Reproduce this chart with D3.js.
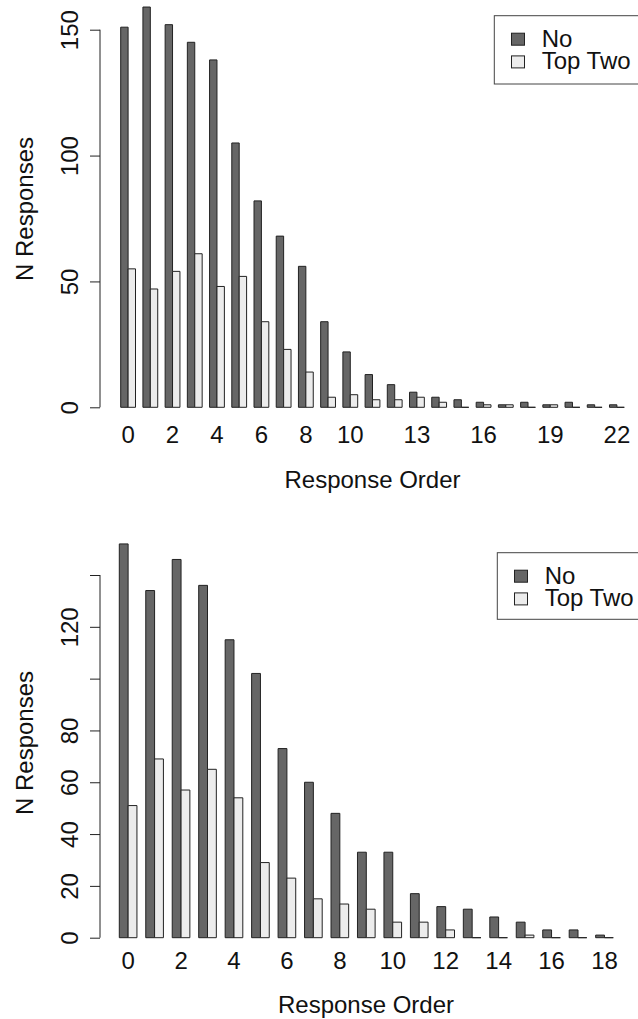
<!DOCTYPE html>
<html>
<head>
<meta charset="utf-8">
<script src="https://cdn.jsdelivr.net/npm/d3@7"></script>
<style>
  html, body { margin: 0; padding: 0; background: #fff; }
  svg { display: block; font-family: "Liberation Sans", Arial, Helvetica, sans-serif; }
</style>
</head>
<body>
<svg id="chart" width="638" height="1019"></svg>
<script>
// ---- data ----
const seriesNames = ['No', 'Top Two'];
const seriesColors = ['#666666', '#ececec'];

// top panel
const topOrder = [0,1,2,3,4,5,6,7,8,9,10,11,12,13,14,15,16,17,18,19,20,21,22];
const topNo     = [151,159,152,145,138,105,82,68,56,34,22,13,9,6,4,3,2,1,2,1,2,1,1];
const topTopTwo = [55,47,54,61,48,52,34,23,14,4,5,3,3,4,2,0,1,1,0,1,0,0,0];
const topXLabels = [0,2,4,6,8,10,13,16,19,22];
const topYTicks = [0,50,100,150];
const topYLabels = [0,50,100,150];

// bottom panel
const botOrder = [0,1,2,3,4,5,6,7,8,9,10,11,12,13,14,15,16,17,18];
const botNo     = [152,134,146,136,115,102,73,60,48,33,33,17,12,11,8,6,3,3,1];
const botTopTwo = [51,69,57,65,54,29,23,15,13,11,6,6,3,0,0,1,0,0,0];
const botXLabels = [0,2,4,6,8,10,12,14,16,18];
const botYTicks = [0,20,40,60,80,100,120,140];
const botYLabels = [0,20,40,60,80,120];

const svg = d3.select('#chart');
const FS = 24;

function drawPanel(p) {
  const g = svg.append('g');

  // group scale (R barplot beside=TRUE: gap of one bar between groups)
  const x = d3.scaleBand()
    .domain(p.order)
    .range(p.xRange)
    .paddingInner(1/3)
    .paddingOuter(0);
  const xSub = d3.scaleBand().domain([0, 1]).range([0, x.bandwidth()]);
  const y = d3.scaleLinear().domain(p.yDomain).range(p.yRange);

  const rows = p.order.map((o, i) => ({o, vals: [p.no[i], p.top[i]]}));

  // bars as paths so zero-height bars still show as a line
  g.selectAll('g.grp')
    .data(rows)
    .enter()
    .append('g')
    .attr('transform', d => `translate(${x(d.o)},0)`)
    .selectAll('path')
    .data(d => d.vals.map((v, k) => ({v, k})))
    .enter()
    .append('path')
    .attr('d', d => {
      const x0 = xSub(d.k), w = xSub.bandwidth();
      const y0 = y(0), y1 = y(d.v);
      return `M${x0},${y1}h${w}V${y0}H${x0}Z`;
    })
    .attr('fill', d => seriesColors[d.k])
    .attr('stroke', '#222')
    .attr('stroke-width', 1);

  // y axis
  const yAxis = g.append('g')
    .attr('transform', `translate(${p.axisX},0)`)
    .call(d3.axisLeft(y)
      .tickValues(p.yTicks)
      .tickSize(10)
      .tickFormat(v => p.yLabels.includes(v) ? v : ''));
  yAxis.select('.domain').attr('stroke', '#222')
    .attr('d', `M0,${y(p.yTicks[0])}V${y(p.yTicks[p.yTicks.length - 1])}`);
  yAxis.selectAll('line').attr('stroke', '#222');
  yAxis.selectAll('text')
    .attr('transform', 'rotate(-90)')
    .attr('x', 0).attr('y', -22).attr('dy', 0)
    .attr('text-anchor', 'middle')
    .attr('font-size', FS).attr('font-family', null).attr('fill', '#111');

  // x labels (no ticks, no line)
  const xAxis = g.append('g')
    .attr('transform', `translate(0,${p.xLabelY})`)
    .call(d3.axisBottom(x).tickValues(p.xLabels).tickSize(0).tickPadding(0));
  xAxis.select('.domain').remove();
  xAxis.selectAll('text')
    .attr('y', 0).attr('dy', 0)
    .attr('font-size', FS).attr('font-family', null).attr('fill', '#111');

  // axis titles
  g.append('text')
    .text('Response Order')
    .attr('x', p.titleX).attr('y', p.titleY)
    .attr('text-anchor', 'middle')
    .attr('font-size', FS).attr('fill', '#111');
  g.append('text')
    .text('N Responses')
    .attr('transform', `translate(33,${p.ylabY}) rotate(-90)`)
    .attr('text-anchor', 'middle')
    .attr('font-size', FS).attr('fill', '#111');

  // legend
  const lg = g.append('g').attr('transform', `translate(${p.legX},${p.legY})`);
  lg.append('rect')
    .attr('width', 170).attr('height', p.legH)
    .attr('fill', '#fff').attr('stroke', '#444').attr('stroke-width', 1);
  seriesNames.forEach((name, k) => {
    lg.append('rect')
      .attr('x', 17.2).attr('y', 17.5 + k * 22.7)
      .attr('width', 13).attr('height', 12)
      .attr('fill', seriesColors[k]).attr('stroke', '#222');
    lg.append('text')
      .text(name)
      .attr('x', 47.4).attr('y', 31 + k * 22.7)
      .attr('font-size', FS).attr('fill', '#111');
  });
}

drawPanel({
  order: topOrder, no: topNo, top: topTopTwo,
  xRange: [120.7, 624.3], yDomain: [0, 150], yRange: [407.3, 29.7],
  yTicks: topYTicks, yLabels: topYLabels, xLabels: topXLabels,
  axisX: 100, xLabelY: 443, titleX: 372.5, titleY: 487.5, ylabY: 209,
  legX: 494.3, legY: 15.7, legH: 68.3
});

drawPanel({
  order: botOrder, no: botNo, top: botTopTwo,
  xRange: [119.3, 613.3], yDomain: [0, 140], yRange: [937.7, 575],
  yTicks: botYTicks, yLabels: botYLabels, xLabels: botXLabels,
  axisX: 100, xLabelY: 969.3, titleX: 366, titleY: 1013.3, ylabY: 743,
  legX: 497.3, legY: 552.7, legH: 66.6
});
</script>
</body>
</html>
